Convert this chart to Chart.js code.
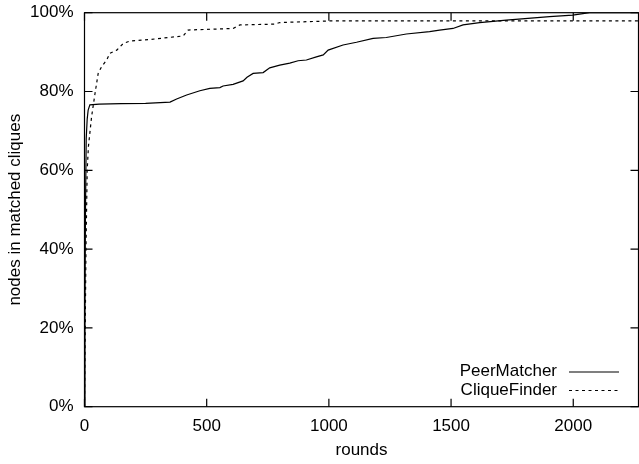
<!DOCTYPE html>
<html>
<head>
<meta charset="utf-8">
<script src="https://cdn.jsdelivr.net/npm/chart.js@4"></script>
<style>
  html, body { margin: 0; padding: 0; background: #fff; }
  canvas { display: block; }
</style>
</head>
<body>
<canvas id="c" width="639" height="464"></canvas>
<script>
// --- data ------------------------------------------------------------------

const X_MAX = 2267;
const Y_TICKS = [0, 20, 40, 60, 80, 100];
const X_TICKS = [0, 500, 1000, 1500, 2000];

const peerRounds = [0, 2, 4, 7, 11, 15, 22, 60, 150, 250, 350, 377, 418, 472, 513, 554,
  567, 608, 649, 665, 690, 731, 758, 799, 840, 874, 908, 949, 977, 997, 1058, 1113, 1181, 1235,
  1317, 1412, 1453, 1508, 1549, 1617, 1726, 1903, 1998, 2067, 2267];
const peerValues = [0, 25, 50, 68, 73, 75.3, 76.6, 76.8, 76.9, 77.0, 77.3, 78.1, 79.1, 80.2, 80.8, 81.0,
  81.4, 81.8, 82.7, 83.6, 84.6, 84.8, 86.0, 86.7, 87.2, 87.8, 88.0, 88.8, 89.3, 90.5, 91.8, 92.5, 93.5, 93.7,
  94.6, 95.2, 95.6, 96.0, 96.9, 97.5, 98.1, 99.0, 99.4, 100, 100];

const cliqueRounds = [0, 3, 6, 11, 16, 29, 43, 56, 70, 91, 104, 132, 159, 186, 268, 404, 424,
  608, 636, 779, 799, 1004, 2267];
const cliqueValues = [0, 20, 40, 60, 66, 73.6, 79.5, 84.6, 86.3, 88.0, 89.7, 90.5, 92.2, 92.8, 93.2, 94.1, 95.6,
  96.0, 96.9, 97.1, 97.5, 97.9, 97.9];

const FONT = { family: "'Liberation Sans', Arial, sans-serif", size: 17 };

const pairs = (xs, ys) => xs.map((x, i) => ({ x, y: ys[i] }));

// keep Chart.js from reserving extra room for overhanging tick labels
function noPad(s) {
  s.paddingTop = s.paddingBottom = s.paddingLeft = s.paddingRight = 0;
}

// --- gnuplot-ish frame: border box with inward ticks on all four sides ------
const framePlugin = {
  id: "frame",
  afterDraw(chart) {
    const { ctx, chartArea: a, scales } = chart;
    ctx.save();
    ctx.strokeStyle = "#000";
    ctx.lineWidth = 1.2;
    ctx.strokeRect(a.left, a.top, a.right - a.left, a.bottom - a.top);
    ctx.beginPath();
    X_TICKS.forEach((v) => {
      const px = scales.x.getPixelForValue(v);
      ctx.moveTo(px, a.bottom); ctx.lineTo(px, a.bottom - 8);
      ctx.moveTo(px, a.top); ctx.lineTo(px, a.top + 8);
    });
    Y_TICKS.forEach((v) => {
      const py = scales.y.getPixelForValue(v);
      ctx.moveTo(a.left, py); ctx.lineTo(a.left + 8, py);
      ctx.moveTo(a.right, py); ctx.lineTo(a.right - 8, py);
    });
    ctx.stroke();
    ctx.restore();
  },
};

// --- legend in the bottom-right corner: text, then the line sample ----------
const keyPlugin = {
  id: "key",
  afterDraw(chart) {
    const { ctx } = chart;
    ctx.save();
    ctx.font = `${FONT.size}px ${FONT.family}`;
    ctx.textAlign = "right";
    ctx.textBaseline = "middle";
    chart.data.datasets.forEach((ds, i) => {
      const y = 371.5 + i * 18.5;
      ctx.fillStyle = "#000";
      ctx.fillText(ds.label, 557, y);
      ctx.beginPath();
      ctx.setLineDash(ds.borderDash || []);
      ctx.strokeStyle = ds.borderColor;
      ctx.lineWidth = ds.borderWidth;
      ctx.moveTo(569, y + 0.5);
      ctx.lineTo(619, y + 0.5);
      ctx.stroke();
    });
    ctx.restore();
  },
};

new Chart(document.getElementById("c"), {
  type: "line",
  data: {
    datasets: [
      { label: "PeerMatcher", data: pairs(peerRounds, peerValues),
        borderColor: "#000", borderWidth: 1.2, pointRadius: 0, tension: 0 },
      { label: "CliqueFinder", data: pairs(cliqueRounds, cliqueValues),
        borderColor: "#000", borderWidth: 1.2, borderDash: [3, 3.5], pointRadius: 0, tension: 0 },
    ],
  },
  options: {
    responsive: false,
    animation: false,
    layout: { padding: { top: 12.7, right: 0.5, left: 0, bottom: 0 } },
    plugins: { legend: { display: false }, tooltip: { enabled: false } },
    scales: {
      x: {
        type: "linear", min: 0, max: X_MAX,
        afterFit: (s) => { s.height = 57.3; noPad(s); },
        afterBuildTicks: (s) => { s.ticks = X_TICKS.map((v) => ({ value: v })); },
        grid: { display: false, drawTicks: false },
        border: { display: false },
        ticks: { color: "#000", font: FONT, padding: 9, maxRotation: 0, callback: (v) => String(v) },
        title: { display: true, text: "rounds", color: "#000", font: FONT,
          padding: { top: 3, bottom: 3 } },
      },
      y: {
        min: 0, max: 100,
        afterFit: (s) => { s.width = 84.5; noPad(s); },
        afterBuildTicks: (s) => { s.ticks = Y_TICKS.map((v) => ({ value: v })); },
        grid: { display: false, drawTicks: false },
        border: { display: false },
        ticks: { color: "#000", font: FONT, padding: 11, callback: (v) => v + "%" },
        title: { display: true, text: "nodes in matched cliques", color: "#000", font: FONT,
          padding: { top: 5, bottom: 5 } },
      },
    },
  },
  plugins: [framePlugin, keyPlugin],
});
</script>
</body>
</html>
